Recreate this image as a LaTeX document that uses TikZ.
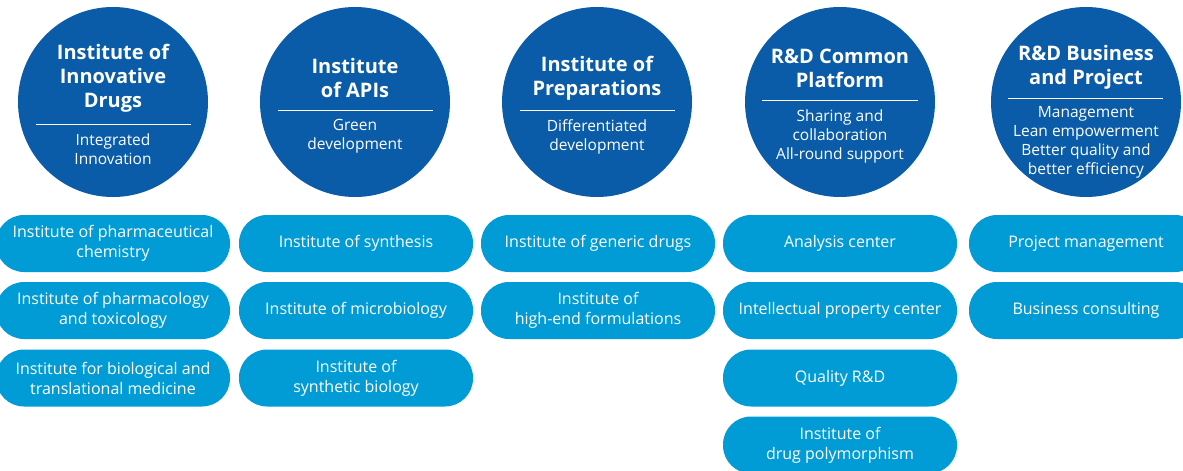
\documentclass[tikz,border=0pt]{standalone}
\usepackage{fontspec}
\setmainfont{Open Sans}

\definecolor{hubblue}{HTML}{0A5CA9}
\definecolor{pillblue}{HTML}{019BD5}

\tikzset{
  hub/.style={circle, fill=hubblue, minimum size=190pt, inner sep=0pt},
  hubtitle/.style={text=white, font=\fontsize{20}{24}\selectfont\bfseries, align=center},
  hubsub/.style={text=white, font=\fontsize{15.5}{19}\selectfont, align=center},
  sepline/.style={white, line width=0.8pt},
  pill/.style={fill=pillblue, rounded corners=28pt, minimum width=234pt, minimum height=57pt,
    text=white, font=\fontsize{16}{20}\selectfont, align=center, inner sep=0pt},
}

\begin{document}
\begin{tikzpicture}[x=1pt, y=-1pt]
    \useasboundingbox (0,0) rectangle (1183,471);

    % Circles with titles
    \node[hub] (drugs) at (113,102) {};
    \node[hubtitle] (drugsT) at (113,78) {Institute of\\Innovative\\Drugs};
    \draw[sepline] (36,124) -- (191,124);
    \node[hubsub] (drugsS) at (113,149.5) {Integrated\\Innovation};

    \node[hub] (apis) at (355,102) {};
    \node[hubtitle] (apisT) at (355,78) {Institute\\of APIs};
    \draw[sepline] (278,110) -- (433,110);
    \node[hubsub] (apisS) at (355,136.5) {Green\\development};

    \node[hub] (prep) at (597,102) {};
    \node[hubtitle] (prepT) at (597,78) {Institute of\\Preparations};
    \draw[sepline] (520,110) -- (675,110);
    \node[hubsub] (prepS) at (597,136.5) {Differentiated\\development};

    \node[hub] (common) at (840,102) {};
    \node[hubtitle] (commonT) at (840,68) {R\&D Common\\Platform};
    \draw[sepline] (762,100) -- (918,100);
    \node[hubsub] (commonS) at (840,136) {Sharing and\\collaboration\\All-round support};

    \node[hub] (business) at (1086,102) {};
    \node[hubtitle] (businessT) at (1086,67.5) {R\&D Business\\and Project};
    \draw[sepline] (1008,98) -- (1163,98);
    \node[hubsub] (businessS) at (1086,142) {Management\\Lean empowerment\\Better quality and\\better efficiency};

    % Pills, column 1
    \node[pill] (pharmchem) at (113,243.5) {Institute of pharmaceutical\\chemistry};
    \node[pill] (pharmtox) at (113,310.5) {Institute of pharmacology\\and toxicology};
    \node[pill] (biomed) at (113,378) {Institute for biological and\\translational medicine};

    % Pills, column 2
    \node[pill] (synth) at (356,243.5) {Institute of synthesis};
    \node[pill] (micro) at (356,310.5) {Institute of microbiology};
    \node[pill] (synbio) at (356,378) {Institute of\\synthetic biology};

    % Pills, column 3
    \node[pill] (generic) at (598,243.5) {Institute of generic drugs};
    \node[pill] (highend) at (598,310.5) {Institute of\\high-end formulations};

    % Pills, column 4
    \node[pill] (analysis) at (840,243.5) {Analysis center};
    \node[pill] (ip) at (840,310.5) {Intellectual property center};
    \node[pill] (quality) at (840,378) {Quality R\&D};
    \node[pill] (poly) at (840,445) {Institute of\\drug polymorphism};

    % Pills, column 5
    \node[pill] (projmgmt) at (1086,243.5) {Project management};
    \node[pill] (consult) at (1086,310.5) {Business consulting};
\end{tikzpicture}
\end{document}
